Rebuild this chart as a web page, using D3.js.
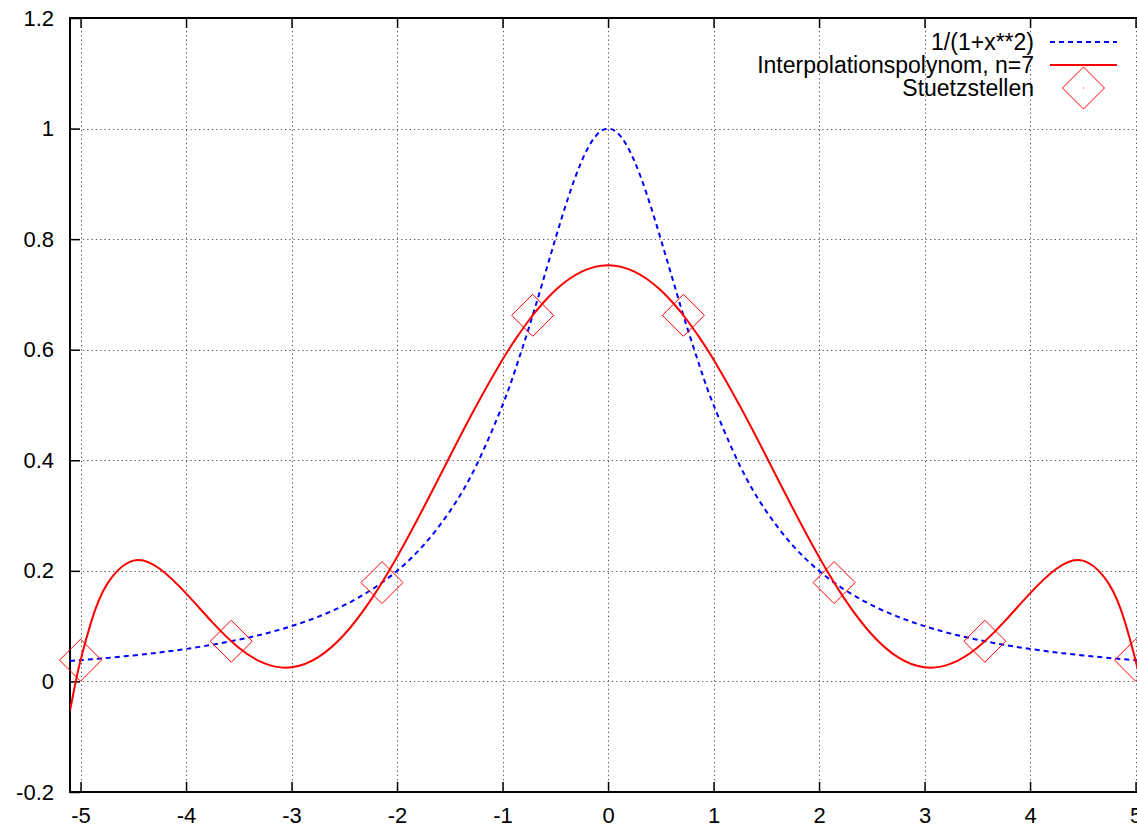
<!DOCTYPE html>
<html><head><meta charset="utf-8">
<script src="https://cdn.jsdelivr.net/npm/d3@7"></script>
<style>
html,body{margin:0;padding:0;background:#fff;}
svg{display:block;}
text{font-family:"Liberation Sans",Arial,Helvetica,sans-serif;fill:#000;}
</style></head>
<body>
<svg id="chart" width="1137" height="828"></svg>
<script>
// ---- data ----
const xSamples = [-5.1,-5.05,-5,-4.9,-4.75,-4.5,-4.25,-4,-3.75,-3.5,-3.25,-3,-2.75,-2.5,-2.25,-2,-1.75,-1.5,-1.25,-1,-0.875,-0.75,-0.625,-0.5,-0.375,-0.25,-0.125,
  0,0.125,0.25,0.375,0.5,0.625,0.75,0.875,1,1.25,1.5,1.75,2,2.25,2.5,2.75,3,3.25,3.5,3.75,4,4.25,4.5,4.75,4.9,5,5.05,5.1];
const rungeValues = [0.0370,0.0377,0.0385,0.0400,0.0424,0.0471,0.0524,0.0588,0.0664,0.0755,0.0865,0.1,0.1168,0.1379,0.1649,0.2,0.2462,0.3077,0.3902,0.5,0.5664,0.64,0.7191,0.8,0.8767,0.9412,0.9846,
  1,0.9846,0.9412,0.8767,0.8,0.7191,0.64,0.5664,0.5,0.3902,0.3077,0.2462,0.2,0.1649,0.1379,0.1168,0.1,0.0865,0.0755,0.0664,0.0588,0.0524,0.0471,0.0424,0.0400,0.0385,0.0377,0.0370];
const polyValues = [-0.0526,-0.0041,0.0384,0.1073,0.1756,0.2185,0.2037,0.1593,0.1068,0.0610,0.0321,0.0256,0.0435,0.0849,0.1470,0.2252,0.3138,0.4069,0.4983,0.5822,0.6196,0.6533,0.6827,0.7074,0.7270,0.7412,0.7498,
  0.7526,0.7498,0.7412,0.7270,0.7074,0.6827,0.6533,0.6196,0.5822,0.4983,0.4069,0.3138,0.2252,0.1470,0.0849,0.0435,0.0256,0.0321,0.0610,0.1068,0.1593,0.2037,0.2185,0.1756,0.1073,0.0384,-0.0041,-0.0526];
const nodeX = [-5,-3.5714,-2.1429,-0.7143,0.7143,2.1429,3.5714,5];
const nodeY = [0.0385,0.0727,0.1788,0.6622,0.6622,0.1788,0.0727,0.0385];
const xTicks = [-5,-4,-3,-2,-1,0,1,2,3,4,5];
const yTicks = [-0.2,0,0.2,0.4,0.6,0.8,1,1.2];
const legendLabels = ["1/(1+x**2)","Interpolationspolynom, n=7","Stuetzstellen"];

// ---- layout ----
const svg = d3.select("#chart");
const L = 70, T = 18, B = 792;
const x = d3.scaleLinear().domain([-5.1, 5.1]).range([L, L + 10.2 * 105.5]);
const y = d3.scaleLinear().domain([-0.2, 1.2]).range([B, T]);
const R = x(5.1);

const defs = svg.append("defs");
defs.append("clipPath").attr("id","clip").append("rect")
  .attr("x", L).attr("y", T).attr("width", R - L).attr("height", B - T);

// grid
const grid = svg.append("g").attr("stroke","#555").attr("stroke-width",1).attr("stroke-dasharray","1.3,3");
grid.selectAll(".gx").data(xTicks).join("line")
  .attr("x1", d => Math.round(x(d)) + 0.5).attr("x2", d => Math.round(x(d)) + 0.5)
  .attr("y1", T).attr("y2", B);
grid.selectAll(".gy").data(yTicks.filter(d => d > -0.2 && d < 1.2)).join("line")
  .attr("y1", d => Math.round(y(d)) + 0.5).attr("y2", d => Math.round(y(d)) + 0.5)
  .attr("x1", L).attr("x2", R);

// axes
const fs = "22px";
const fmt = d => String(d);
const axB = svg.append("g").attr("transform", `translate(0,${B})`)
  .call(d3.axisBottom(x).tickValues(xTicks).tickSize(-10).tickPadding(15).tickFormat(fmt));
const axT = svg.append("g").attr("transform", `translate(0,${T})`)
  .call(d3.axisTop(x).tickValues(xTicks).tickSize(-10).tickFormat(""));
const axL = svg.append("g").attr("transform", `translate(${L},0)`)
  .call(d3.axisLeft(y).tickValues(yTicks).tickSize(-10).tickPadding(16).tickFormat(fmt));
[axB, axT, axL].forEach(a => {
  a.select(".domain").remove();
  a.selectAll(".tick line").attr("stroke","#000").attr("stroke-width",1.5);
  a.selectAll("text").style("font-size", fs).attr("fill","#000");
});
axB.selectAll("text").attr("dy","0.71em");

// border (left, top, bottom)
svg.append("path")
  .attr("d", `M${R},${T}H${L}V${B}H${R}`)
  .attr("fill","none").attr("stroke","#000").attr("stroke-width",2);

// curves
const plot = svg.append("g").attr("clip-path","url(#clip)");
const lineGen = vals => d3.line().curve(d3.curveNatural)
  .x((d,i) => x(xSamples[i])).y((d,i) => y(vals[i]))(vals);
plot.append("path").attr("d", lineGen(rungeValues))
  .attr("fill","none").attr("stroke","#0000ff").attr("stroke-width",2).attr("stroke-dasharray","5,4");
plot.append("path").attr("d", lineGen(polyValues))
  .attr("fill","none").attr("stroke","#ff0000").attr("stroke-width",2);

// diamonds
const dsz = 21;
const diamond = (cx, cy) => `M${cx},${cy-dsz}L${cx+dsz},${cy}L${cx},${cy+dsz}L${cx-dsz},${cy}Z`;
const nodes = svg.append("g");
nodeX.forEach((nx, i) => {
  nodes.append("path").attr("d", diamond(x(nx), y(nodeY[i])))
    .attr("fill","none").attr("stroke","#ff0000").attr("stroke-width",1);
  nodes.append("rect").attr("x", x(nx) - 0.5).attr("y", y(nodeY[i]) - 0.5).attr("width",1).attr("height",1).attr("fill","#ff0000");
});

// legend
const lg = svg.append("g");
const rowY = [42, 65, 88];
const textRight = 1034, sx1 = 1050, sx2 = 1117;
legendLabels.forEach((lab, i) => {
  lg.append("text").attr("x", textRight).attr("y", rowY[i]).attr("dy","0.35em")
    .attr("text-anchor","end").style("font-size", "23px").text(lab);
});
lg.append("line").attr("x1", sx1).attr("x2", sx2).attr("y1", rowY[0]).attr("y2", rowY[0])
  .attr("stroke","#0000ff").attr("stroke-width",2).attr("stroke-dasharray","5,4");
lg.append("line").attr("x1", sx1).attr("x2", sx2).attr("y1", rowY[1]).attr("y2", rowY[1])
  .attr("stroke","#ff0000").attr("stroke-width",2);
const mx = (sx1 + sx2) / 2;
lg.append("path").attr("d", diamond(mx, rowY[2])).attr("fill","none").attr("stroke","#ff0000").attr("stroke-width",1);
lg.append("rect").attr("x", mx - 0.5).attr("y", rowY[2] - 0.5).attr("width",1).attr("height",1).attr("fill","#ff0000");
</script>
</body></html>
